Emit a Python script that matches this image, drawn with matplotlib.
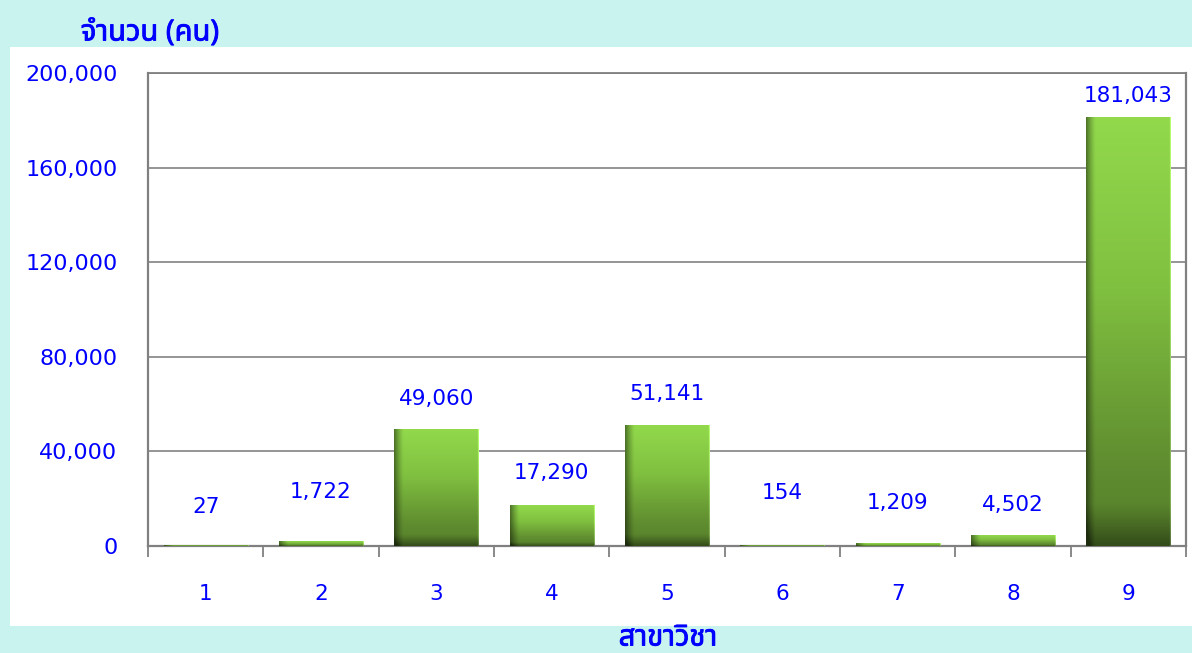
import numpy as np
import matplotlib
matplotlib.use("Agg")
import matplotlib.pyplot as plt
from matplotlib.patches import Rectangle
from matplotlib.ticker import FuncFormatter, MultipleLocator
import matplotlib.patheffects as pe

categories = ["1", "2", "3", "4", "5", "6", "7", "8", "9"]
values = [27, 1722, 49060, 17290, 51141, 154, 1209, 4502, 181043]
y_title = "จำนวน (คน)"
x_title = "สาขาวิชา"

label_offsets = [28, 36, 22, 23, 22, 38, 29, 22, 16]  # points

thai_fonts = ["Noto Sans Thai", "Noto Sans Thai Looped", "Loma", "Garuda", "Tlwg Typo",
              "Noto Sans", "DejaVu Sans"]
plt.rcParams["font.family"] = thai_fonts

BLUE = "#0000ff"
fig = plt.figure(figsize=(11.92, 6.53), dpi=100)
fig.patch.set_facecolor("#c9f3ef")
W, H = 1192, 653
fig.add_artist(Rectangle((10 / W, (H - 626) / H), 1 - 10 / W, (626 - 47) / H,
                         transform=fig.transFigure, facecolor="white", edgecolor="none", zorder=0))

ax = fig.add_axes([148 / W, (H - 546) / H, (1186 - 148) / W, (546 - 73) / H])
x = np.arange(len(categories))
bars = ax.bar(x, values, width=0.73, color="none", edgecolor="none", zorder=3)

# gradient image
ny, nx = 300, 80
yy = np.linspace(0, 1, ny)  # 0 top -> 1 bottom
xx = np.linspace(0, 1, nx)[None, :]
stops_t = [0.0, 0.4, 0.8, 1.0]
stops_c = np.array([[0x92, 0xd9, 0x4c], [0x80, 0xc0, 0x40], [0x60, 0x8e, 0x30], [0x55, 0x7e, 0x2a]]) / 255
base = np.stack([np.interp(yy, stops_t, stops_c[:, k]) for k in range(3)], axis=-1)[:, None, :]
base = np.broadcast_to(base, (ny, nx, 3)).copy()
yc = yy[:, None]
bshade = np.clip((yc - 0.9) / 0.1, 0, 1) ** 1.2 * 0.4
lshade = np.clip(1 - xx / 0.11, 0, 1) ** 1.3 * 0.45
shade = 1 - np.clip(bshade + lshade, 0, 0.65)
img = base * shade[..., None]
img[:, -1, :] = np.clip(img[:, -1, :] + 0.15, 0, 1)

for b in bars:
    x0, w, h = b.get_x(), b.get_width(), b.get_height()
    ax.imshow(img, extent=(x0, x0 + w, 0, h), aspect="auto", zorder=3, interpolation="bilinear")

for b, v, off in zip(bars, values, label_offsets):
    ax.annotate(f"{v:,}", (b.get_x() + b.get_width() / 2, v), xytext=(0, off),
                textcoords="offset points", ha="center", va="center",
                color=BLUE, fontsize=15.5, family=["DejaVu Sans"], zorder=5)

ax.set_xlim(-0.5, len(categories) - 0.5)
ax.set_ylim(0, 200000)
ax.yaxis.set_major_locator(MultipleLocator(40000))
ax.yaxis.set_major_formatter(FuncFormatter(lambda v, p: f"{int(v):,}"))
ax.grid(axis="y", color="#8c8c8c", linewidth=1.3, zorder=1)
ax.set_axisbelow(True)
ax.set_facecolor("white")

ax.set_xticks(x)
ax.set_xticklabels(categories)
ax.set_xticks(np.arange(-0.5, len(categories), 1), minor=True)
ax.tick_params(axis="x", which="major", length=0, pad=27, labelsize=15.5, labelcolor=BLUE)
ax.tick_params(axis="x", which="minor", length=8, width=1.3, color="#808080", direction="out")
ax.tick_params(axis="y", length=0, pad=22, labelsize=16, labelcolor=BLUE)
for lab in ax.get_xticklabels() + ax.get_yticklabels():
    lab.set_family(["DejaVu Sans"])

for s in ax.spines.values():
    s.set_color("#808080")
    s.set_linewidth(1.6)
ax.spines["top"].set_linewidth(1.3)

bold = [pe.withStroke(linewidth=0.6, foreground=BLUE)]
fig.text(150 / W, (H - 33) / H, y_title, ha="center", va="center", fontsize=21,
         fontweight="bold", color=BLUE, path_effects=bold)
fig.text(668 / W, (H - 638) / H, x_title, ha="center", va="center", fontsize=21,
         fontweight="bold", color=BLUE, path_effects=bold)

fig.savefig("out.png", dpi=100, facecolor=fig.get_facecolor())
